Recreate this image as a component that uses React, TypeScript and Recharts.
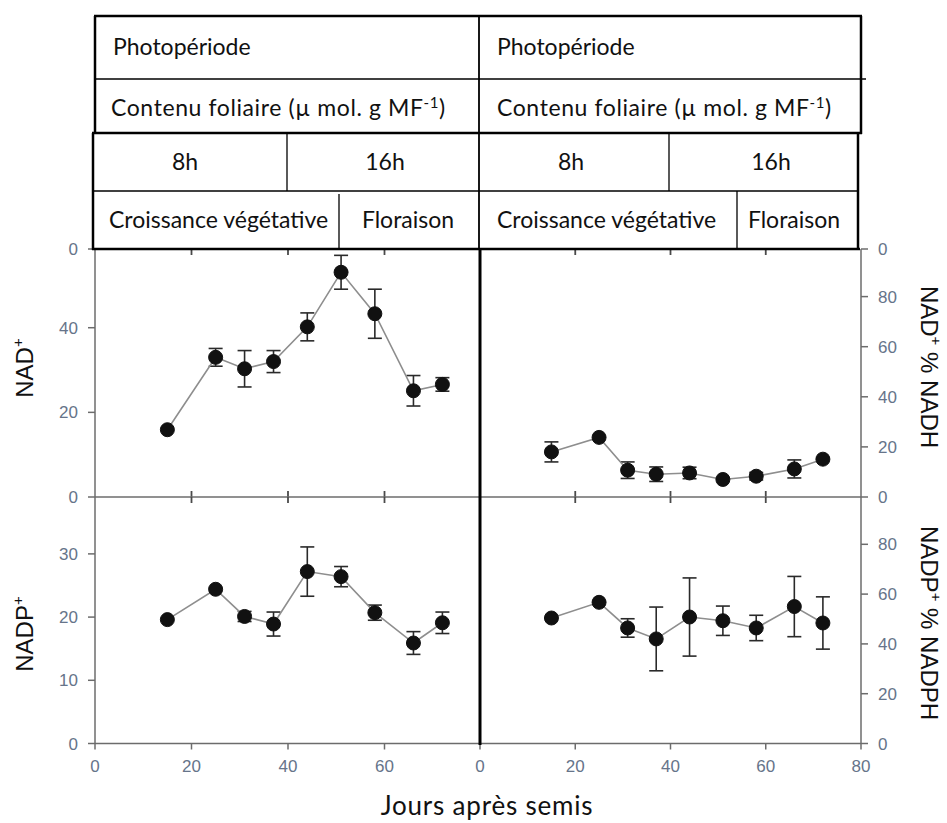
import React from "react";
import { ErrorBar, Line, LineChart, ReferenceLine, XAxis, YAxis } from "recharts";

// sampling days (jours après semis)
const days = [15, 25, 31, 37, 44, 51, 58, 66, 72];

// NAD+ content and its error
const nad = [15.9, 33.0, 30.3, 32.0, 40.2, 53.1, 43.3, 25.1, 26.6];
const nadErr = [0, 2.1, 4.3, 2.6, 3.3, 4.0, 5.8, 3.6, 1.6];

// NAD+ % NADH
const nadRatio = [18.0, 23.8, 10.7, 9.1, 9.6, 7.0, 8.3, 11.2, 15.1];
const nadRatioErr = [4.0, 0, 3.3, 2.9, 2.3, 0, 1.5, 3.6, 0];

// NADP+ content
const nadp = [19.6, 24.4, 20.1, 18.9, 27.2, 26.4, 20.7, 15.9, 19.1];
const nadpErr = [0, 0, 0.8, 1.9, 3.9, 1.6, 1.2, 1.8, 1.7];

// NADP+ % NADPH
const nadpRatio = [50.4, 56.7, 46.4, 42.0, 50.8, 49.3, 46.4, 55.0, 48.4];
const nadpRatioErr = [0, 0, 3.7, 12.8, 15.7, 5.9, 5.1, 12.1, 10.5];

// axis ticks; the top of each scale shows up as a clipped "0" in the source figure
const nadMax = 58.6;
const nadTicks = [0, 20, 40, 58.6];
const nadTickLabels = ["0", "20", "40", "0"];
const nadpMax = 39;
const nadpTicks = [0, 10, 20, 30];
const nadpTickLabels = ["0", "10", "20", "30"];
const ratioMax = 99;
const ratioTicksTop = [0, 20, 40, 60, 80, 99];
const ratioTicksTopLabels = ["0", "20", "40", "60", "80", "0"];
const ratioTicksBottom = [0, 20, 40, 60, 80];
const ratioTicksBottomLabels = ["0", "20", "40", "60", "80"];
const dayTicksLeft = [0, 20, 40, 60];
const dayTicksRight = [0, 20, 40, 60, 80];
const innerDayTicks = [20, 40, 60];

const rows = days.map((day, i) => ({
  day,
  nad: nad[i],
  nadErr: nadErr[i],
  nadRatio: nadRatio[i],
  nadRatioErr: nadRatioErr[i],
  nadp: nadp[i],
  nadpErr: nadpErr[i],
  nadpRatio: nadpRatio[i],
  nadpRatioErr: nadpRatioErr[i],
}));

const AXIS = "#6c6c6c";
const TICK_TEXT = { fill: "#66748a", fontSize: 17, fontFamily: "Liberation Sans, Arial, sans-serif" };
const PAD = 70;
const PAD_T = 10;
const PAD_B = 40;
const INNER_TICK = 6; // px

type PanelProps = {
  x: number;
  y: number;
  w: number;
  h: number;
  valueKey: string;
  errKey: string;
  yMax: number;
  yTicks: number[];
  yLabels: string[];
  side: "left" | "right";
  xTicks: number[] | null; // null: upper panel, inner ticks only
};

function Panel(p: PanelProps) {
  const withLabels = p.xTicks !== null;
  const yFmt = (v: number) => p.yLabels[p.yTicks.indexOf(v)] ?? String(v);
  const tickLen = (p.yMax * INNER_TICK) / p.h;
  return (
    <div style={{ position: "absolute", left: p.x - PAD, top: p.y - PAD_T }}>
      <LineChart
        width={p.w + 2 * PAD}
        height={p.h + PAD_T + PAD_B}
        data={rows}
        margin={{
          top: PAD_T,
          bottom: 0,
          left: p.side === "left" ? 0 : PAD,
          right: p.side === "right" ? 0 : PAD,
        }}
      >
        <XAxis
          xAxisId="bottom"
          type="number"
          dataKey="day"
          domain={[0, 80]}
          ticks={withLabels ? (p.xTicks as number[]) : innerDayTicks}
          interval={0}
          height={PAD_B}
          tickSize={6}
          tickMargin={10}
          tick={withLabels ? TICK_TEXT : false}
          axisLine={{ stroke: AXIS, strokeWidth: 1.5 }}
          tickLine={withLabels ? { stroke: AXIS, strokeWidth: 1.5 } : false}
        />
        <YAxis
          yAxisId="v"
          orientation={p.side}
          width={PAD}
          type="number"
          domain={[0, p.yMax]}
          ticks={p.yTicks}
          interval={0}
          tickFormatter={yFmt}
          tickSize={7}
          tickMargin={10}
          tick={TICK_TEXT}
          axisLine={{ stroke: AXIS, strokeWidth: 1.5 }}
          tickLine={{ stroke: AXIS, strokeWidth: 1.5 }}
        />
        {/* inner ticks along the top edge */}
        {innerDayTicks.map((d) => (
          <ReferenceLine
            key={`top-${d}`}
            xAxisId="bottom"
            yAxisId="v"
            ifOverflow="visible"
            segment={[{ x: d, y: p.yMax }, { x: d, y: p.yMax - tickLen }]}
            stroke="#4a4a4a"
            strokeWidth={1.8}
          />
        ))}
        {/* inner ticks along the bottom edge of the upper panels */}
        {!withLabels &&
          innerDayTicks.map((d) => (
            <ReferenceLine
              key={`bot-${d}`}
              xAxisId="bottom"
              yAxisId="v"
              ifOverflow="visible"
              segment={[{ x: d, y: 0 }, { x: d, y: tickLen }]}
              stroke="#4a4a4a"
              strokeWidth={1.8}
            />
          ))}
        <Line
          xAxisId="bottom"
          yAxisId="v"
          type="linear"
          dataKey={p.valueKey}
          stroke="#8e8e8e"
          strokeWidth={1.6}
          dot={{ r: 7, fill: "#111", stroke: "#111", strokeWidth: 1 }}
          activeDot={false}
          isAnimationActive={false}
        >
          <ErrorBar
            dataKey={p.errKey}
            direction="y"
            width={7}
            stroke="#2a2a2a"
            strokeWidth={1.6}
            isAnimationActive={false}
          />
        </Line>
      </LineChart>
    </div>
  );
}

const HEAD_FONT = "Lato, 'Open Sans', sans-serif";
const TITLE_FONT = "'Liberation Sans', Arial, sans-serif";

function Header() {
  const t = { fontFamily: HEAD_FONT, fontSize: 23, fill: "#111" };
  const contenu = (x: number) => (
    <text x={x} y={116} {...t} letterSpacing={0.6}>
      Contenu foliaire (µ mol. g MF
      <tspan dy={-8} fontSize={15}>-1</tspan>
      <tspan dy={8}>)</tspan>
    </text>
  );
  return (
    <g>
      {/* upper block */}
      <line x1={94} y1={16} x2={862} y2={16} stroke="#000" strokeWidth={2.5} />
      <line x1={95} y1={16} x2={95} y2={134} stroke="#000" strokeWidth={2.5} />
      <line x1={861} y1={16} x2={861} y2={134} stroke="#000" strokeWidth={2.5} />
      <line x1={95} y1={79} x2={866} y2={79} stroke="#000" strokeWidth={1.5} />
      <line x1={92} y1={133} x2={862} y2={133} stroke="#000" strokeWidth={2.5} />
      <line x1={479} y1={16} x2={479} y2={249} stroke="#000" strokeWidth={1.8} />
      {/* lower block */}
      <line x1={93} y1={133} x2={93} y2={250} stroke="#000" strokeWidth={2.5} />
      <line x1={858} y1={133} x2={858} y2={250} stroke="#000" strokeWidth={2.5} />
      <line x1={93} y1={191} x2={858} y2={191} stroke="#000" strokeWidth={1.5} />
      <line x1={287} y1={133} x2={287} y2={191} stroke="#000" strokeWidth={1.3} />
      <line x1={669} y1={133} x2={669} y2={191} stroke="#000" strokeWidth={1.3} />
      <line x1={339} y1={194} x2={339} y2={249} stroke="#000" strokeWidth={1.3} />
      <line x1={737} y1={191} x2={737} y2={249} stroke="#000" strokeWidth={1.3} />
      <line x1={92} y1={249} x2={860} y2={249} stroke="#000" strokeWidth={2.5} />

      <text x={113} y={55} {...t}>Photopériode</text>
      <text x={497} y={55} {...t}>Photopériode</text>
      {contenu(111)}
      {contenu(497)}
      <text x={185} y={170} textAnchor="middle" {...t}>8h</text>
      <text x={385} y={170} textAnchor="middle" {...t}>16h</text>
      <text x={571} y={170} textAnchor="middle" {...t}>8h</text>
      <text x={771} y={170} textAnchor="middle" {...t}>16h</text>
      <text x={109} y={228} {...t}>Croissance végétative</text>
      <text x={408} y={228} textAnchor="middle" {...t}>Floraison</text>
      <text x={497} y={228} {...t}>Croissance végétative</text>
      <text x={794} y={228} textAnchor="middle" {...t}>Floraison</text>
    </g>
  );
}

function AxisTitle({ x, y, rot, main, sup, rest }: { x: number; y: number; rot: number; main: string; sup: string; rest?: string }) {
  return (
    <text
      transform={`translate(${x},${y}) rotate(${rot})`}
      textAnchor="middle"
      fontFamily={TITLE_FONT}
      fontSize={24}
      fill="#111"
    >
      {main}
      <tspan dy={-10} fontSize={15}>{sup}</tspan>
      <tspan dy={10}>{rest ?? ""}</tspan>
    </text>
  );
}

export default function App() {
  return (
    <div style={{ position: "absolute", left: 0, top: 0, width: 947, height: 823, background: "#fff" }}>
      <Panel x={95} y={249} w={386} h={248} valueKey="nad" errKey="nadErr" yMax={nadMax}
        yTicks={nadTicks} yLabels={nadTickLabels} side="left" xTicks={null} />
      <Panel x={479.5} y={249} w={381} h={248} valueKey="nadRatio" errKey="nadRatioErr" yMax={ratioMax}
        yTicks={ratioTicksTop} yLabels={ratioTicksTopLabels} side="right" xTicks={null} />
      <Panel x={95} y={497} w={386} h={246.5} valueKey="nadp" errKey="nadpErr" yMax={nadpMax}
        yTicks={nadpTicks} yLabels={nadpTickLabels} side="left" xTicks={dayTicksLeft} />
      <Panel x={479.5} y={497} w={381} h={246.5} valueKey="nadpRatio" errKey="nadpRatioErr" yMax={ratioMax}
        yTicks={ratioTicksBottom} yLabels={ratioTicksBottomLabels} side="right" xTicks={dayTicksRight} />

      <svg width={947} height={823} style={{ position: "absolute", left: 0, top: 0, pointerEvents: "none" }}>
        <Header />
        <line x1={480} y1={249} x2={480} y2={745} stroke="#000" strokeWidth={3} />
        <AxisTitle x={33} y={368} rot={-90} main="NAD" sup="+" />
        <AxisTitle x={33} y={634} rot={-90} main="NADP" sup="+" />
        <AxisTitle x={921} y={367} rot={90} main="NAD" sup="+" rest=" % NADH" />
        <AxisTitle x={921} y={623} rot={90} main="NADP" sup="+" rest=" % NADPH" />
        <text x={487} y={815} textAnchor="middle" fontFamily={HEAD_FONT} fontSize={26} letterSpacing={0.8} fill="#111">
          Jours après semis
        </text>
      </svg>
    </div>
  );
}
